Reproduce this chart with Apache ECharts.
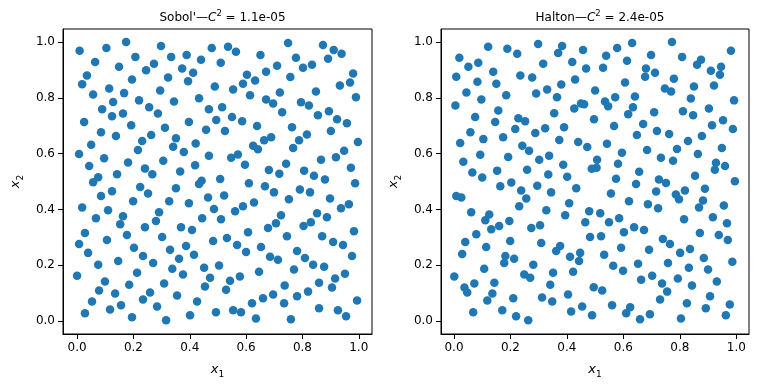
<!DOCTYPE html>
<html>
<head>
<meta charset="utf-8">
<script src="https://cdn.jsdelivr.net/npm/echarts@6/dist/echarts.min.js"></script>
<style>
  html, body { margin: 0; padding: 0; background: #fff; }
  #chart { width: 768px; height: 384px; }
</style>
</head>
<body>
<div id="chart"></div>
<script>
// Sobol' points [x1, x2]
const sobol = [
  [0.009,0.969],[0.104,0.979],[0.174,1.000],[0.298,0.986],[0.478,0.979],[0.064,0.929],[0.207,0.947],[0.334,0.947],
  [0.389,0.954],[0.440,0.937],[0.149,0.912],[0.273,0.922],[0.245,0.899],[0.373,0.905],[0.412,0.890],[0.035,0.880],
  [0.018,0.849],[0.195,0.866],[0.323,0.873],[0.394,0.860],[0.489,0.841],[0.114,0.834],[0.057,0.812],[0.167,0.817],
  [0.295,0.826],[0.128,0.785],[0.220,0.791],[0.344,0.787],[0.433,0.799],[0.089,0.759],[0.256,0.766],[0.468,0.759],
  [0.124,0.734],[0.163,0.744],[0.287,0.744],[0.494,0.721],[0.025,0.713],[0.192,0.702],[0.397,0.713],[0.085,0.677],
  [0.138,0.663],[0.312,0.693],[0.263,0.667],[0.231,0.645],[0.351,0.655],[0.458,0.686],[0.050,0.632],[0.341,0.625],
  [0.421,0.636],[0.216,0.613],[0.379,0.606],[0.007,0.599],[0.096,0.583],[0.468,0.592],[0.306,0.574],[0.181,0.568],
  [0.043,0.556],[0.419,0.558],[0.241,0.547],[0.267,0.526],[0.142,0.526],[0.366,0.536],[0.075,0.515],[0.057,0.497],
  [0.442,0.503],[0.433,0.491],
  [0.536,0.983],[0.564,0.965],[0.749,0.997],[0.873,0.990],[0.911,0.972],[0.939,0.958],[0.891,0.940],[0.651,0.954],
  [0.777,0.944],[0.510,0.926],[0.710,0.915],[0.802,0.908],[0.834,0.919],[0.671,0.894],[0.603,0.883],[0.980,0.887],
  [0.757,0.875],[0.589,0.851],[0.632,0.862],[0.969,0.855],[0.933,0.844],[0.554,0.830],[0.720,0.819],[0.848,0.823],
  [0.614,0.809],[0.990,0.802],[0.671,0.794],[0.696,0.780],[0.795,0.784],[0.823,0.773],[0.515,0.766],[0.894,0.752],
  [0.728,0.748],[0.855,0.738],[0.550,0.731],[0.586,0.716],[0.923,0.723],[0.958,0.709],[0.639,0.699],[0.525,0.681],
  [0.763,0.695],[0.901,0.681],[0.816,0.669],[0.689,0.659],[0.664,0.648],[0.788,0.648],[0.997,0.642],[0.625,0.628],
  [0.642,0.616],[0.767,0.620],[0.571,0.597],[0.547,0.585],[0.948,0.610],[0.919,0.587],[0.866,0.578],[0.596,0.560],
  [0.742,0.564],[0.972,0.549],[0.681,0.541],[0.718,0.528],[0.806,0.539],[0.841,0.521],[0.880,0.507],[0.508,0.509],
  [0.610,0.494],[0.987,0.494],
  [0.124,0.465],[0.224,0.480],[0.252,0.457],[0.351,0.476],[0.085,0.448],[0.465,0.443],[0.018,0.407],[0.199,0.429],
  [0.327,0.429],[0.397,0.422],[0.110,0.397],[0.486,0.401],[0.291,0.390],[0.067,0.368],[0.163,0.375],[0.153,0.347],
  [0.280,0.358],[0.444,0.368],[0.241,0.336],[0.369,0.336],[0.408,0.326],[0.028,0.315],[0.177,0.308],[0.302,0.301],
  [0.106,0.290],[0.483,0.287],[0.007,0.276],[0.387,0.269],[0.202,0.262],[0.330,0.255],[0.039,0.244],[0.234,0.233],
  [0.415,0.237],[0.362,0.223],[0.146,0.215],[0.270,0.208],[0.075,0.201],[0.338,0.187],[0.451,0.191],[0.213,0.173],
  [0.376,0.166],[0.000,0.162],[0.472,0.155],[0.099,0.141],[0.309,0.134],[0.185,0.130],[0.078,0.109],[0.135,0.098],
  [0.454,0.123],[0.259,0.102],[0.355,0.091],[0.053,0.070],[0.234,0.077],[0.426,0.070],[0.156,0.056],[0.284,0.052],
  [0.117,0.041],[0.028,0.027],[0.195,0.013],[0.316,0.002],[0.401,0.020],[0.493,0.031],
  [0.667,0.483],[0.699,0.461],[0.791,0.471],[0.827,0.461],[0.522,0.450],[0.898,0.439],[0.752,0.436],[0.628,0.425],
  [0.589,0.411],[0.561,0.393],[0.937,0.404],[0.965,0.418],[0.724,0.379],[0.852,0.386],[0.887,0.372],[0.511,0.365],
  [0.706,0.350],[0.678,0.333],[0.830,0.354],[0.804,0.340],[0.607,0.318],[0.983,0.322],[0.745,0.304],[0.870,0.304],
  [0.532,0.297],[0.568,0.272],[0.909,0.283],[0.944,0.272],[0.653,0.265],[0.600,0.247],[0.781,0.251],[0.976,0.233],
  [0.685,0.230],[0.713,0.219],[0.809,0.226],[0.838,0.201],[0.877,0.194],[0.504,0.199],[0.770,0.184],[0.646,0.176],
  [0.951,0.169],[0.578,0.159],[0.543,0.144],[0.916,0.152],[0.859,0.137],[0.737,0.127],[0.529,0.112],[0.905,0.120],
  [0.820,0.105],[0.696,0.095],[0.660,0.081],[0.781,0.088],[0.994,0.073],[0.621,0.063],[0.735,0.063],[0.554,0.038],
  [0.582,0.031],[0.859,0.045],[0.926,0.038],[0.955,0.017],[0.635,0.009],[0.759,0.006]
];

// Halton points [x1, x2]
const halton = [
  [0.121,0.983],[0.189,0.976],[0.224,0.958],[0.298,0.993],[0.383,0.986],[0.369,0.961],[0.457,0.972],[0.019,0.944],
  [0.051,0.912],[0.086,0.926],[0.316,0.922],[0.419,0.929],[0.468,0.905],[0.008,0.876],[0.139,0.894],[0.235,0.880],
  [0.277,0.873],[0.083,0.858],[0.150,0.851],[0.429,0.866],[0.380,0.848],[0.044,0.819],[0.185,0.809],[0.291,0.816],
  [0.330,0.830],[0.365,0.802],[0.500,0.826],[0.097,0.794],[0.005,0.773],[0.157,0.755],[0.426,0.762],[0.450,0.780],
  [0.461,0.777],[0.355,0.745],[0.075,0.731],[0.228,0.727],[0.252,0.716],[0.146,0.713],[0.496,0.723],[0.217,0.688],
  [0.323,0.691],[0.390,0.695],[0.058,0.677],[0.288,0.674],[0.104,0.652],[0.174,0.659],[0.373,0.649],[0.022,0.638],
  [0.440,0.642],[0.472,0.624],[0.242,0.628],[0.266,0.610],[0.093,0.596],[0.192,0.588],[0.337,0.592],[0.302,0.578],
  [0.507,0.578],[0.488,0.546],[0.505,0.549],[0.033,0.571],[0.387,0.560],[0.065,0.532],[0.100,0.514],[0.153,0.539],
  [0.259,0.542],[0.334,0.525],[0.401,0.517],[0.203,0.496],
  [0.631,0.997],[0.772,1.000],[0.578,0.979],[0.981,0.969],[0.539,0.951],[0.698,0.954],[0.613,0.933],[0.808,0.947],
  [0.875,0.937],[0.861,0.919],[0.528,0.908],[0.680,0.905],[0.712,0.890],[0.677,0.876],[0.910,0.897],[0.946,0.912],
  [0.942,0.883],[0.779,0.869],[0.606,0.855],[0.850,0.841],[0.921,0.844],[0.747,0.834],[0.769,0.823],[0.641,0.805],
  [0.571,0.802],[0.535,0.787],[0.546,0.770],[0.839,0.798],[0.992,0.791],[0.634,0.766],[0.617,0.741],[0.709,0.748],
  [0.811,0.752],[0.847,0.738],[0.903,0.762],[0.953,0.720],[0.567,0.699],[0.670,0.706],[0.914,0.702],[0.988,0.688],
  [0.719,0.681],[0.762,0.670],[0.648,0.667],[0.878,0.663],[0.829,0.645],[0.542,0.635],[0.790,0.617],[0.949,0.620],
  [0.684,0.613],[0.595,0.603],[0.864,0.599],[0.733,0.585],[0.776,0.574],[0.581,0.564],[0.928,0.567],[0.960,0.556],
  [0.924,0.542],[0.656,0.535],[0.854,0.521],[0.574,0.510],[0.726,0.507],[0.751,0.495],[0.645,0.491],[0.995,0.501],
  [0.164,0.483],[0.238,0.468],[0.295,0.485],[0.344,0.461],[0.433,0.476],[0.008,0.448],[0.026,0.443],[0.256,0.439],
  [0.231,0.411],[0.408,0.422],[0.061,0.390],[0.125,0.382],[0.111,0.361],[0.327,0.397],[0.394,0.379],[0.479,0.393],
  [0.196,0.358],[0.160,0.340],[0.132,0.329],[0.305,0.343],[0.274,0.333],[0.465,0.354],[0.079,0.311],[0.482,0.301],
  [0.040,0.283],[0.199,0.287],[0.309,0.279],[0.376,0.269],[0.362,0.251],[0.114,0.265],[0.029,0.240],[0.447,0.244],
  [0.182,0.233],[0.178,0.208],[0.213,0.223],[0.411,0.230],[0.443,0.215],[0.281,0.201],[0.107,0.187],[0.351,0.173],
  [0.422,0.176],[0.249,0.166],[0.270,0.155],[0.001,0.159],[0.143,0.137],[0.072,0.134],[0.037,0.120],[0.047,0.102],
  [0.341,0.130],[0.136,0.098],[0.495,0.121],[0.118,0.073],[0.210,0.081],[0.312,0.084],[0.348,0.070],[0.404,0.095],
  [0.068,0.031],[0.171,0.038],[0.220,0.017],[0.263,0.002],[0.415,0.034],[0.454,0.052],[0.489,0.020],
  [0.556,0.457],[0.716,0.464],[0.786,0.453],[0.797,0.436],[0.818,0.468],[0.889,0.474],[0.620,0.429],[0.687,0.418],
  [0.723,0.404],[0.868,0.407],[0.882,0.432],[0.956,0.414],[0.518,0.386],[0.585,0.368],[0.549,0.354],[0.815,0.365],
  [0.917,0.372],[0.967,0.350],[0.638,0.336],[0.673,0.326],[0.602,0.318],[0.521,0.304],[0.871,0.315],[0.938,0.308],
  [0.970,0.290],[0.740,0.294],[0.765,0.276],[0.592,0.262],[0.836,0.258],[0.691,0.255],[0.801,0.244],[0.532,0.237],
  [0.885,0.226],[0.986,0.212],[0.758,0.208],[0.652,0.205],[0.564,0.198],[0.832,0.191],[0.599,0.180],[0.900,0.184],
  [0.702,0.162],[0.663,0.148],[0.793,0.152],[0.737,0.134],[0.931,0.141],[0.843,0.127],[0.525,0.109],[0.755,0.105],
  [0.907,0.088],[0.730,0.077],[0.825,0.063],[0.560,0.056],[0.624,0.049],[0.610,0.027],[0.892,0.045],[0.977,0.059],
  [0.694,0.024],[0.659,0.006],[0.804,0.009],[0.963,0.020]
];

const tickValues = [0, 0.2, 0.4, 0.6, 0.8, 1.0];
const titles = ["Sobol'—", "Halton—"];
const discrepancy = ["1.1e-05", "2.4e-05"];

const font = "DejaVu Sans";
const blue = "#1f77b4";

const nameRich = {
  i: { fontFamily: font, fontStyle: "italic", fontSize: 13, color: "#000", lineHeight: 18, verticalAlign: "middle" },
  s: { fontFamily: font, fontSize: 9, color: "#000", lineHeight: 9, verticalAlign: "bottom" }
};

const grids = [
  { left: 63, top: 29, width: 309, height: 307 },
  { left: 441, top: 29, width: 308, height: 307 }
];
const xRanges = [[-0.05, 1.047], [-0.046, 1.045]];

function makeAxis(dim, idx) {
  const range = dim === "x" ? xRanges[idx] : [-0.047, 1.047];
  return {
    type: "value",
    gridIndex: idx,
    min: range[0],
    max: range[1],
    name: dim === "x" ? "{i|x}{s|1}" : "{i|x}{s|2}",
    nameLocation: "middle",
    nameGap: dim === "x" ? 27 : 38,
    nameTextStyle: { rich: nameRich },
    axisLine: { show: true, onZero: false, lineStyle: { color: "#000", width: 1 } },
    axisTick: { show: true, length: 5, customValues: tickValues, lineStyle: { color: "#000" } },
    axisLabel: {
      customValues: tickValues,
      margin: 8,
      color: "#000",
      fontFamily: font,
      fontSize: 12,
      formatter: (v) => v.toFixed(1)
    },
    splitLine: { show: false }
  };
}

const chart = echarts.init(document.getElementById("chart"));
chart.setOption({
  animation: false,
  backgroundColor: "#fff",
  title: [0, 1].map((i) => ({
    text: "{n|" + titles[i] + "}{c|C}{p|2}{n| = " + discrepancy[i] + "}",
    left: grids[i].left + grids[i].width / 2,
    top: 4,
    textAlign: "center",
    textStyle: {
      fontWeight: "normal",
      rich: {
        n: { fontFamily: font, fontSize: 12, fontWeight: "normal", color: "#000", lineHeight: 18 },
        c: { fontFamily: font, fontSize: 12, fontWeight: "normal", fontStyle: "italic", color: "#000", lineHeight: 18 },
        p: { fontFamily: font, fontSize: 8.5, fontWeight: "normal", color: "#000", lineHeight: 9, verticalAlign: "top" }
      }
    }
  })),
  grid: grids.map((g) => Object.assign({ show: true, borderColor: "#000", borderWidth: 1, backgroundColor: "#fff" }, g)),
  xAxis: [makeAxis("x", 0), makeAxis("x", 1)],
  yAxis: [makeAxis("y", 0), makeAxis("y", 1)],
  series: [
    { type: "scatter", xAxisIndex: 0, yAxisIndex: 0, data: sobol, symbolSize: 8.5, itemStyle: { color: blue, opacity: 1 } },
    { type: "scatter", xAxisIndex: 1, yAxisIndex: 1, data: halton, symbolSize: 8.5, itemStyle: { color: blue, opacity: 1 } }
  ]
});
</script>
</body>
</html>
